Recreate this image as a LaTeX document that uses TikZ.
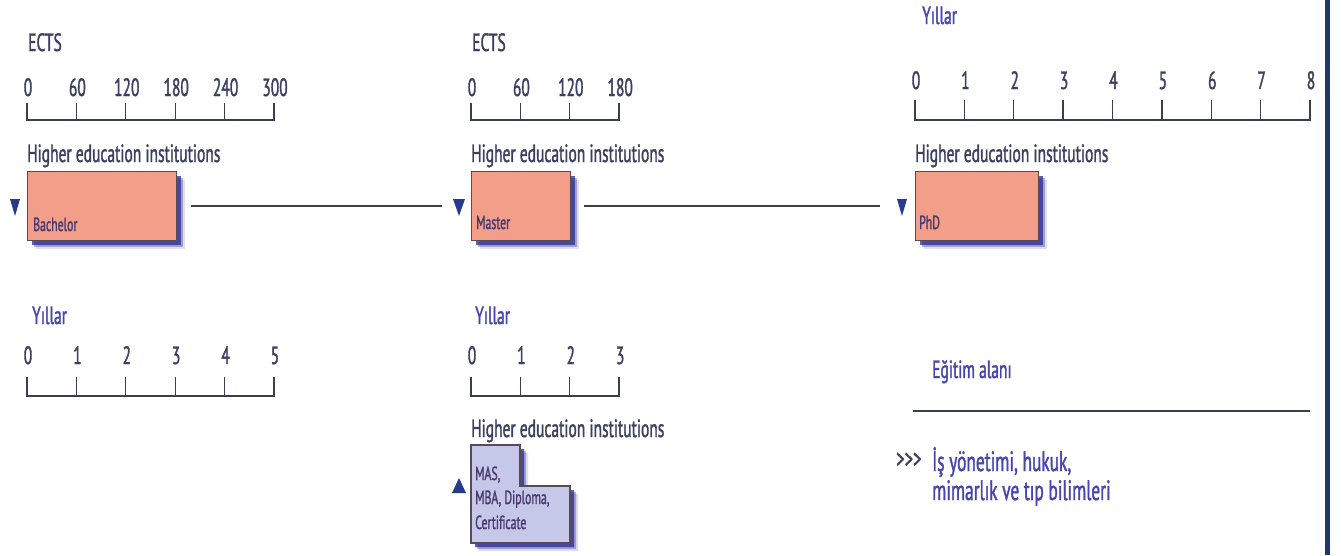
\documentclass[tikz,border=0pt]{standalone}
\usepackage{fontspec}
\setmainfont[FakeStretch=0.62,FakeBold=1.3]{PT Sans}
\usetikzlibrary{shadows}
\definecolor{txt}{HTML}{3C4060}
\definecolor{bluetxt}{HTML}{4646AE}
\definecolor{boxtxt}{HTML}{4A3A70}
\definecolor{salmon}{HTML}{F39E89}
\definecolor{lavender}{HTML}{C6C8EA}
\definecolor{boxborder}{HTML}{5A4A55}
\definecolor{tricol}{HTML}{263A8E}
\definecolor{axisc}{HTML}{3A3E50}
\definecolor{shadowc}{HTML}{2A2A90}
\definecolor{edgec}{HTML}{1E3A6A}
\begin{document}
\begin{tikzpicture}[x=1pt,y=-1pt,
  lbl/.style={anchor=base west, inner sep=0pt, text=txt, font=\fontsize{25}{30}\selectfont},
  blbl/.style={lbl, text=bluetxt},
  num/.style={anchor=base, inner sep=0pt, text=txt, font=\fontsize{25}{30}\selectfont},
  small/.style={anchor=base west, inner sep=0pt, text=boxtxt, font=\fontsize{19}{22}\selectfont},
  axisline/.style={draw=axisc, line width=1.3pt},
  conn/.style={draw=axisc, line width=1.5pt},
  shad/.style={drop shadow={shadow xshift=8pt, shadow yshift=-8pt, fill=shadowc, opacity=0.15},
               drop shadow={shadow xshift=6pt, shadow yshift=-6pt, fill=shadowc, opacity=0.35},
               drop shadow={shadow xshift=4pt, shadow yshift=-4pt, fill=shadowc, opacity=0.75}},
  degbox/.style={draw=boxborder, line width=1.2pt, fill=salmon, anchor=north west, inner sep=0pt,
                 minimum height=69pt, shad},
  tri/.style={fill=tricol}
]
\fill[white] (0,0) rectangle (1341,555);
\useasboundingbox (0,0) rectangle (1341,555);
\fill[edgec] (1325,0) rectangle (1330,555);

% ---------- Panel 1: Bachelor ----------
\node[lbl] (ects1) at (28,51) {ECTS};
\draw[axisline] (27,103) -- (27,120) -- (274,120) -- (274,103);
\foreach \i/\l in {0/0,1/60,2/120,3/180,4/240,5/300}{
  \draw[axisline] ({27+49.4*\i},103) -- ({27+49.4*\i},120);
  \node[num] (a1n\i) at ({28+49.4*\i},96) {\l};
}
\node[lbl] (hei1) at (27,162) {Higher education institutions};
\node[degbox, minimum width=149pt] (bach) at (27,171) {};
\node[small] (bachl) at (33,231) {Bachelor};
\fill[tri] (10,199) -- (20,199) -- (15,216) -- cycle;

% ---------- Panel 2: Master ----------
\node[lbl] (ects2) at (472,51) {ECTS};
\draw[axisline] (471,103) -- (471,120) -- (619,120) -- (619,103);
\foreach \i/\l in {0/0,1/60,2/120,3/180}{
  \draw[axisline] ({471+49.4*\i},103) -- ({471+49.4*\i},120);
  \node[num] (a2n\i) at ({472+49.4*\i},96) {\l};
}
\node[lbl] (hei2) at (471,162) {Higher education institutions};
\node[degbox, minimum width=99pt] (master) at (471,171) {};
\node[small] (masterl) at (476,229) {Master};
\fill[tri] (453,199) -- (465,199) -- (459,216) -- cycle;

% ---------- Panel 3: PhD ----------
\node[blbl] (yil3) at (922,24) {Yıllar};
\draw[axisline] (915,100) -- (915,120) -- (1310,120) -- (1310,100);
\foreach \i in {0,...,8}{
  \draw[axisline] ({915+49.375*\i},100) -- ({915+49.375*\i},120);
  \node[num] (a3n\i) at ({916+49.375*\i},89) {\i};
}
\node[lbl] (hei3) at (915,162) {Higher education institutions};
\node[degbox, minimum width=123pt] (phd) at (915,171) {};
\node[small] (phdl) at (919,229) {PhD};
\fill[tri] (897,199) -- (907,199) -- (902,216) -- cycle;

% connectors
\draw[conn] ([xshift=14pt]bach.east |- 0,206) -- (442,206);
\draw[conn] ([xshift=13pt]master.east |- 0,206) -- (880,206);

% ---------- Bottom left ----------
\node[blbl] (yil4) at (32,324) {Yıllar};
\draw[axisline] (27,377) -- (27,396) -- (274,396) -- (274,377);
\foreach \i in {0,...,5}{
  \draw[axisline] ({27+49.4*\i},377) -- ({27+49.4*\i},396);
  \node[num] (a4n\i) at ({28+49.4*\i},364) {\i};
}

% ---------- Bottom middle ----------
\node[blbl] (yil5) at (475,324) {Yıllar};
\draw[axisline] (471,377) -- (471,396) -- (619,396) -- (619,377);
\foreach \i in {0,...,3}{
  \draw[axisline] ({471+49.4*\i},377) -- ({471+49.4*\i},396);
  \node[num] (a5n\i) at ({472+49.4*\i},364) {\i};
}
\node[lbl] (hei5) at (471,437) {Higher education institutions};
\path[draw=boxborder, line width=1.2pt, fill=lavender, shad]
  (471,445) -- (520,445) -- (520,486) -- (570,486) -- (570,543) -- (471,543) -- cycle;
\node[small] (mas1) at (475,480) {MAS,};
\node[small] (mas2) at (475,504) {MBA, Diploma,};
\node[small] (mas3) at (475,529) {Certificate};
\fill[tri] (452,493) -- (466,493) -- (459,478) -- cycle;

% ---------- Bottom right ----------
\node[blbl] (egit) at (932,378) {Eğitim alanı};
\draw[conn] (913,411) -- (1310,411);
\node[lbl, font=\fontsize{27}{30}\selectfont] (arr) at (896,468) {>{}>{}>};
\node[blbl, font=\fontsize{28}{32}\selectfont] (is1) at (932,471) {İş yönetimi, hukuk,};
\node[blbl, font=\fontsize{28}{32}\selectfont] (is2) at (932,500) {mimarlık ve tıp bilimleri};
\end{tikzpicture}
\end{document}
